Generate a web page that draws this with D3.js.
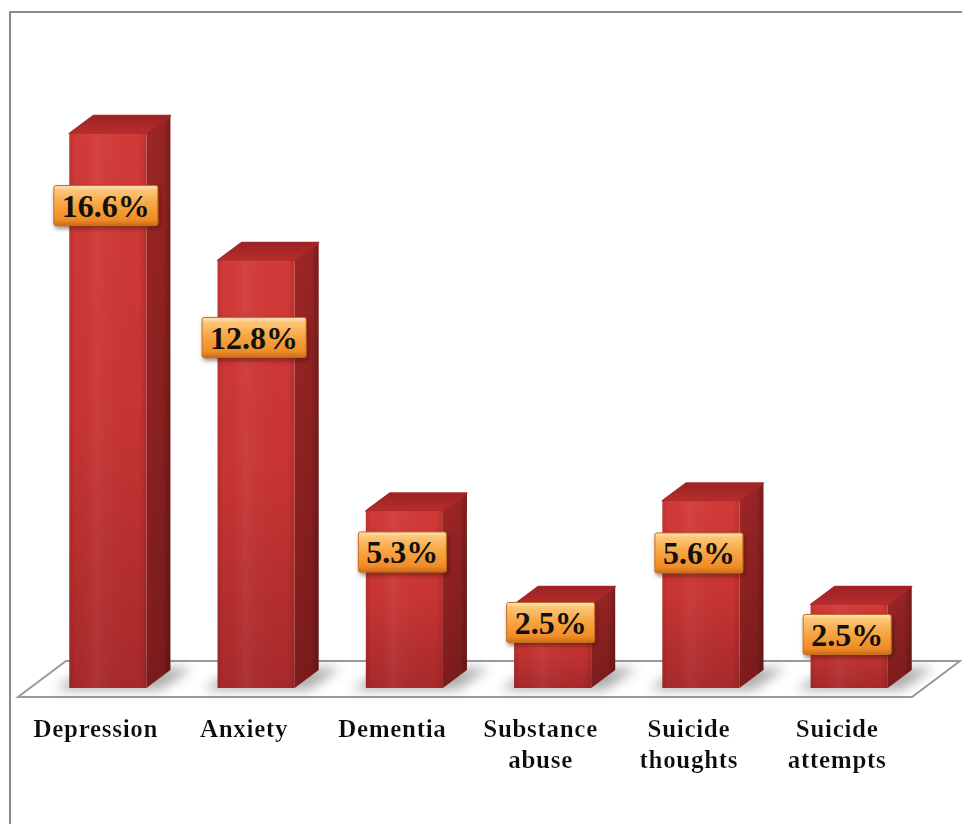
<!DOCTYPE html>
<html>
<head>
<meta charset="utf-8">
<script src="https://cdn.jsdelivr.net/npm/d3@7"></script>
<style>
  html, body { margin: 0; padding: 0; background: #fff; }
  svg { display: block; }
</style>
</head>
<body>
<div id="chart"></div>
<script>
// Prevalence of mental health conditions (%)
const categories = ["Depression", "Anxiety", "Dementia", "Substance abuse", "Suicide thoughts", "Suicide attempts"];
const values = [16.6, 12.8, 5.3, 2.5, 5.6, 2.5];
const valueLabels = ["16.6%", "12.8%", "5.3%", "2.5%", "5.6%", "2.5%"];
const categoryLines = [["Depression"], ["Anxiety"], ["Dementia"], ["Substance", "abuse"], ["Suicide", "thoughts"], ["Suicide", "attempts"]];

// how far below each bar's top its value tag sits (px)
const tagDrop = [72, 77, 41, 18, 52, 30];

const W = 962, H = 824;
const svg = d3.select("#chart").append("svg").attr("width", W).attr("height", H);
const defs = svg.append("defs");

// floor geometry: front edge y, depth vector of the floor
const floorFrontY = 697;
const depth = { x: 48, y: -36 };
const barDepth = { x: 24, y: -18 };   // bars fill the middle half of the floor depth
const inset = { x: depth.x * 0.25, y: depth.y * 0.25 };

const x = d3.scaleBand()
  .domain(categories)
  .range([18, 915])
  .paddingInner(0.48)
  .paddingOuter(0.265);

const baseY = floorFrontY + inset.y;
const y = d3.scaleLinear().domain([0, 18]).range([baseY, baseY - 18 * 33.4]);

// gradients
function linGrad(id, x1, y1, x2, y2, stops) {
  const g = defs.append("linearGradient").attr("id", id)
    .attr("x1", x1).attr("y1", y1).attr("x2", x2).attr("y2", y2);
  stops.forEach(s => g.append("stop").attr("offset", s[0]).attr("stop-color", s[1]).attr("stop-opacity", s[2] == null ? 1 : s[2]));
}
linGrad("frontV", 0, 0, 0, 1, [[0, "#d23a38"], [0.5, "#c83433"], [1, "#a8292a"]]);
linGrad("frontH", 0, 0, 1, 0, [[0, "#000", 0.1], [0.08, "#000", 0.0], [0.35, "#fff", 0.05], [0.9, "#000", 0.0], [1, "#000", 0.12]]);
linGrad("sideV", 0, 0, 0, 1, [[0, "#a02626"], [1, "#7d1c1c"]]);
linGrad("sideH", 0, 0, 1, 0, [[0, "#000", 0.0], [0.7, "#000", 0.05], [1, "#000", 0.25]]);
linGrad("topG", 0, 1, 0, 0, [[0, "#ba2d2d"], [0.5, "#a82828"], [1, "#9c2323"]]);
linGrad("tagG", 0, 0, 0, 1, [[0, "#fde6bd"], [0.12, "#fcc577"], [0.45, "#f8a745"], [0.85, "#f08c26"], [1, "#cc6c1a"]]);

const blur = defs.append("filter").attr("id", "blurShadow").attr("x", "-50%").attr("y", "-50%").attr("width", "200%").attr("height", "200%");
blur.append("feGaussianBlur").attr("stdDeviation", 6);

const tagShadow = defs.append("filter").attr("id", "tagShadow").attr("x", "-20%").attr("y", "-30%").attr("width", "140%").attr("height", "170%");
tagShadow.append("feDropShadow").attr("dx", 1.5).attr("dy", 2.5).attr("stdDeviation", 2)
  .attr("flood-color", "#3a1000").attr("flood-opacity", 0.55);

const textGlow = defs.append("filter").attr("id", "textGlow").attr("x", "-10%").attr("y", "-30%").attr("width", "120%").attr("height", "160%");
textGlow.append("feDropShadow").attr("dx", 0).attr("dy", 0).attr("stdDeviation", 1.5)
  .attr("flood-color", "#ffffff").attr("flood-opacity", 0.9);

// outer frame
svg.append("path")
  .attr("d", `M10,${H + 2} V12 H${W + 2}`)
  .attr("fill", "none").attr("stroke", "#8b8b8b").attr("stroke-width", 2);

// floor
const fx0 = x.range()[0], fx1 = x.range()[1] - 3;
svg.append("polygon")
  .attr("points", [[fx0, floorFrontY], [fx0 + depth.x, floorFrontY + depth.y], [fx1 + depth.x, floorFrontY + depth.y], [fx1, floorFrontY]].join(" "))
  .attr("fill", "#ffffff").attr("stroke", "#9a9a9a").attr("stroke-width", 2).attr("stroke-linejoin", "miter");

const data = categories.map((c, i) => ({ c, v: values[i], label: valueLabels[i], lines: categoryLines[i], drop: tagDrop[i] }));
const bw = x.bandwidth();

function geom(d) {
  const x0 = x(d.c) + inset.x, x1 = x0 + bw;
  const yt = y(d.v), yb = y(0);
  return { x0, x1, yt, yb };
}

// soft shadows on the floor
svg.append("g").selectAll("polygon").data(data).join("polygon")
  .attr("points", d => {
    const g = geom(d);
    return [[g.x0 - 14, g.yb + 2], [g.x0 + barDepth.x - 6, g.yb + barDepth.y - 2],
            [g.x1 + barDepth.x + 22, g.yb + barDepth.y - 2], [g.x1 + 14, g.yb + 2]].join(" ");
  })
  .attr("fill", "#6a6a6a").attr("opacity", 0.55).attr("filter", "url(#blurShadow)");

const bars = svg.append("g").selectAll("g").data(data).join("g");

function sidePts(d) {
  const g = geom(d);
  return [[g.x1, g.yt], [g.x1 + barDepth.x, g.yt + barDepth.y], [g.x1 + barDepth.x, g.yb + barDepth.y], [g.x1, g.yb]].join(" ");
}

// side face
bars.append("polygon").attr("points", sidePts).attr("fill", "url(#sideV)");
bars.append("polygon").attr("points", sidePts).attr("fill", "url(#sideH)");

// top face
bars.append("polygon")
  .attr("points", d => { const g = geom(d);
    return [[g.x0, g.yt], [g.x0 + barDepth.x, g.yt + barDepth.y], [g.x1 + barDepth.x, g.yt + barDepth.y], [g.x1, g.yt]].join(" "); })
  .attr("fill", "url(#topG)").attr("stroke", "#a52727").attr("stroke-width", 1.5).attr("stroke-linejoin", "round");

// front face
bars.append("rect")
  .attr("x", d => geom(d).x0).attr("y", d => geom(d).yt)
  .attr("width", bw).attr("height", d => geom(d).yb - geom(d).yt)
  .attr("fill", "url(#frontV)");
bars.append("rect")
  .attr("x", d => geom(d).x0).attr("y", d => geom(d).yt)
  .attr("width", bw).attr("height", d => geom(d).yb - geom(d).yt)
  .attr("fill", "url(#frontH)");

// value tags
const tagFont = "bold 32px 'Liberation Serif', 'Times New Roman', serif";
const tags = svg.append("g").selectAll("g").data(data).join("g")
  .attr("transform", d => { const g = geom(d); return `translate(${(g.x0 + g.x1) / 2 - 2},${g.yt + d.drop})`; });

tags.each(function (d) {
  const g = d3.select(this);
  const t = g.append("text")
    .attr("text-anchor", "middle").attr("dy", "0.35em")
    .style("font", tagFont).attr("fill", "#111").text(d.label);
  const w = t.node().getComputedTextLength() + 16;
  g.insert("rect", "text")
    .attr("x", -w / 2).attr("y", -20).attr("width", w).attr("height", 40)
    .attr("rx", 2).attr("fill", "url(#tagG)")
    .attr("stroke", "#c36d22").attr("stroke-width", 1)
    .attr("filter", "url(#tagShadow)");
});

// category labels
const labels = svg.append("g").selectAll("text").data(data).join("text")
  .attr("x", d => x(d.c) + bw / 2)
  .attr("y", 737)
  .attr("text-anchor", "middle")
  .style("font", "bold 25px 'Liberation Serif', 'Times New Roman', serif")
  .style("letter-spacing", "0.7px")
  .attr("fill", "#111")
  .attr("filter", "url(#textGlow)");
labels.selectAll("tspan").data(d => d.lines).join("tspan")
  .attr("x", function () { return d3.select(this.parentNode).attr("x"); })
  .attr("dy", (l, i) => i === 0 ? 0 : 31)
  .text(l => l);
</script>
</body>
</html>
